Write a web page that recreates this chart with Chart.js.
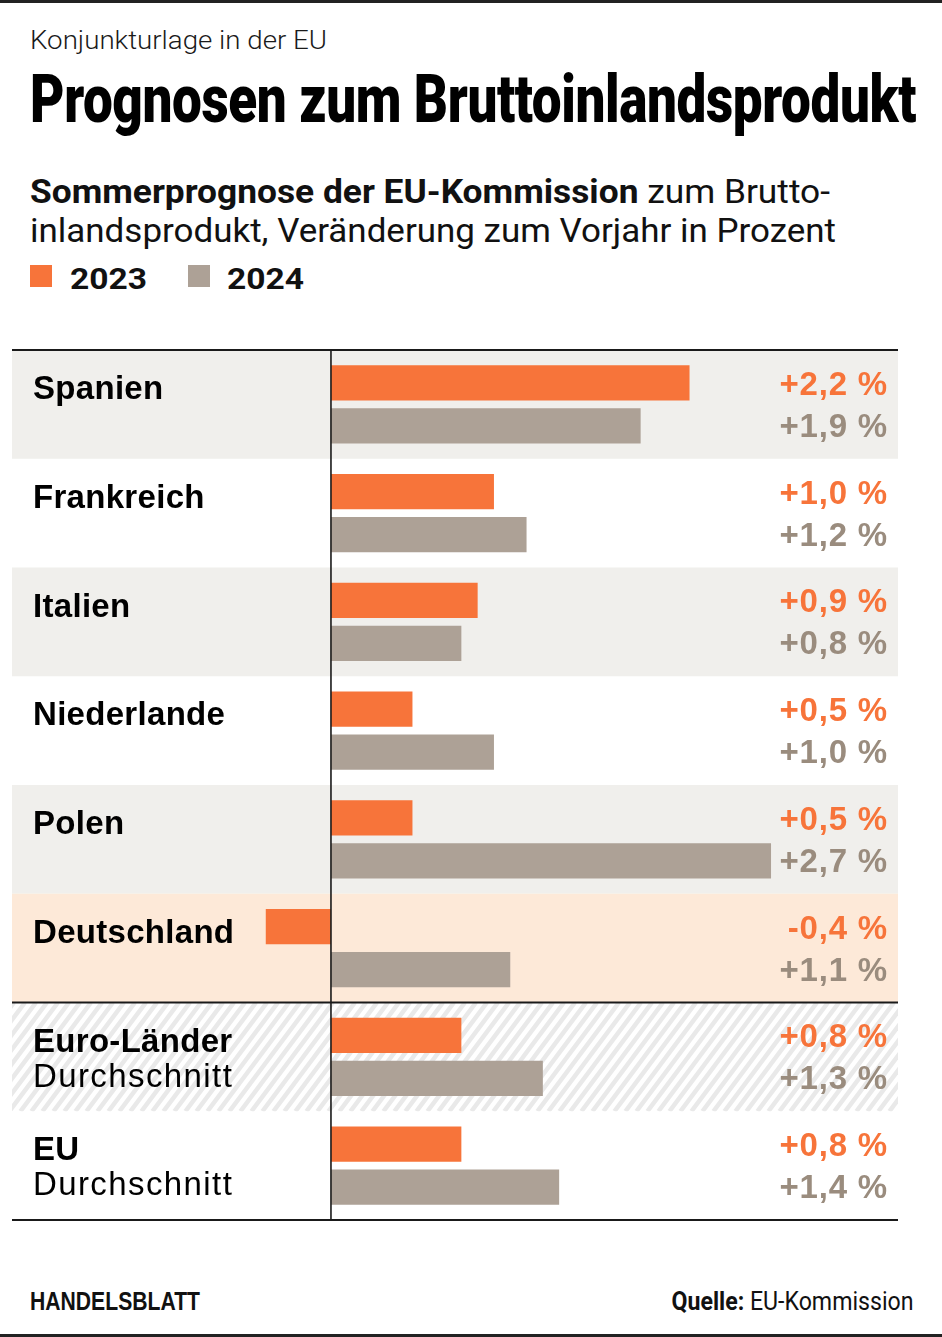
<!DOCTYPE html>
<html lang="de">
<head>
<meta charset="utf-8">
<script src="https://cdn.jsdelivr.net/npm/chart.js@4/dist/chart.umd.min.js"></script>
<style>
  html,body{margin:0;padding:0;background:#fff;}
  body{width:942px;height:1337px;position:relative;overflow:hidden;color:#111;}
  .t{position:absolute;white-space:nowrap;line-height:1;}
  .fitL{transform-origin:0 0;}
  .fitR{transform-origin:100% 0;}
  #topline{position:absolute;left:0;top:0;width:942px;height:2.5px;background:#222;}
  #botline{position:absolute;left:0;top:1334px;width:942px;height:3px;background:#222;}
  .sq{position:absolute;width:22px;height:22px;}
  #chartWrap{position:absolute;left:0;top:340px;width:942px;height:890px;}
</style>
</head>
<body>
<div id="topline"></div>
<div class="t fitL" data-w="297" style="left:30px;top:26px;font:300 25px Roboto,'Liberation Sans',sans-serif;color:#1a1a1a;">Konjunkturlage in der EU</div>
<div class="t fitL" data-w="886" style="left:30px;top:61px;font:900 66px Roboto,'Liberation Sans',sans-serif;color:#000;letter-spacing:-0.5px;">Prognosen zum Bruttoinlandsprodukt</div>
<div class="t fitL" data-w="800" style="left:30px;top:172px;font:400 33px Roboto,'Liberation Sans',sans-serif;color:#111;"><b>Sommerprognose der EU-Kommission</b> zum Brutto-</div>
<div class="t fitL" data-w="806" style="left:30px;top:211px;font:400 33px Roboto,'Liberation Sans',sans-serif;color:#111;">inlandsprodukt, Veränderung zum Vorjahr in Prozent</div>
<div class="sq" style="left:30px;top:265px;background:#f7743a;"></div>
<div class="t fitL" id="lg1" data-w="77" style="left:70px;top:261px;font:bold 30px Roboto,'Liberation Sans',sans-serif;color:#111;"></div>
<div class="sq" style="left:188px;top:265px;background:#ada196;"></div>
<div class="t fitL" id="lg2" data-w="77" style="left:227px;top:261px;font:bold 30px Roboto,'Liberation Sans',sans-serif;color:#111;"></div>

<div id="chartWrap"><canvas id="c" width="942" height="890"></canvas></div>

<div class="t fitL" data-w="170" style="left:30px;top:1287px;font:bold 25px 'Liberation Sans Narrow','Liberation Sans',sans-serif;color:#111;">HANDELSBLATT</div>
<div class="t fitR" data-w="242" style="right:28px;top:1287px;font:400 25px Roboto,'Liberation Sans',sans-serif;color:#111;"><b>Quelle:</b> EU-Kommission</div>
<div id="botline"></div>

<script>
// ---- Data ----
const categories = ["Spanien","Frankreich","Italien","Niederlande","Polen","Deutschland","Euro-Länder","EU"];
const subLabels  = ["","","","","","","Durchschnitt","Durchschnitt"];
const seriesNames = ["2023","2024"];
const values2023 = [2.2, 1.0, 0.9, 0.5, 0.5, -0.4, 0.8, 0.8];
const values2024 = [1.9, 1.2, 0.8, 1.0, 2.7, 1.1, 1.3, 1.4];
const highlightCategory = "Deutschland";

// ---- Styles ----
const ORANGE = "#f7743a";
const GRAY = "#ada196";
const GRAY_TEXT = "#9a8c7e";
const BAND_GRAY = "#f0efec";
const BAND_PEACH = "#fde9d8";
const HATCH = "#e9e9e9";
const LINE = "#1a1a1a";

document.getElementById('lg1').textContent = seriesNames[0];
document.getElementById('lg2').textContent = seriesNames[1];

function fmt(v){
  const s = Math.abs(v).toFixed(1).replace('.', ',');
  return (v < 0 ? '-' : '+') + s + ' %';
}

const tablePlugin = {
  id: 'table',
  beforeDatasetsDraw(chart){
    const {ctx, chartArea:a, scales:{y}} = chart;
    const h = (a.bottom - a.top) / categories.length;
    categories.forEach((c, i) => {
      const cy = y.getPixelForValue(i);
      const top = cy - h/2;
      ctx.save();
      if (c === highlightCategory) {
        ctx.fillStyle = BAND_PEACH;
        ctx.fillRect(a.left, top, a.right - a.left, h);
      } else if (subLabels[i] && i % 2 === 0) {
        ctx.beginPath();
        ctx.rect(a.left, top, a.right - a.left, h);
        ctx.clip();
        ctx.fillStyle = '#fff';
        ctx.fillRect(a.left, top, a.right - a.left, h);
        ctx.strokeStyle = HATCH;
        ctx.lineWidth = 4.5;
        const dx = h * 0.75;
        for (let x = a.left - dx - 20; x < a.right + 20; x += 11) {
          ctx.beginPath();
          ctx.moveTo(x, top + h);
          ctx.lineTo(x + dx, top);
          ctx.stroke();
        }
      } else if (i % 2 === 0) {
        ctx.fillStyle = BAND_GRAY;
        ctx.fillRect(a.left, top, a.right - a.left, h);
      }
      ctx.restore();
    });
  },
  afterDatasetsDraw(chart){
    const {ctx, chartArea:a, scales:{x, y}} = chart;
    const h = (a.bottom - a.top) / categories.length;
    const x0 = x.getPixelForValue(0);
    ctx.save();
    // zero line
    ctx.strokeStyle = LINE;
    ctx.lineWidth = 1.6;
    ctx.beginPath(); ctx.moveTo(x0, a.top); ctx.lineTo(x0, a.bottom); ctx.stroke();
    // horizontal rules
    ctx.lineWidth = 2;
    const rule = (yy) => { ctx.beginPath(); ctx.moveTo(a.left, yy); ctx.lineTo(a.right, yy); ctx.stroke(); };
    rule(a.top);
    rule(a.bottom);
    const firstAvg = subLabels.findIndex(s => s);
    if (firstAvg > 0) rule(y.getPixelForValue(firstAvg) - h/2);

    // category labels
    ctx.textBaseline = 'alphabetic';
    ctx.textAlign = 'left';
    ctx.fillStyle = '#000';
    categories.forEach((c, i) => {
      const top = y.getPixelForValue(i) - h/2;
      ctx.font = 'bold 33px "Liberation Sans", Arial, sans-serif';
      ctx.letterSpacing = '0.3px';
      ctx.fillText(c, a.left + 21, top + 49);
      if (subLabels[i]) {
        ctx.font = '400 33px "Liberation Sans", Arial, sans-serif';
        ctx.letterSpacing = '1.4px';
        ctx.fillText(subLabels[i], a.left + 21, top + 84);
      }
    });

    // value labels
    ctx.textAlign = 'right';
    ctx.font = 'bold 33px "Liberation Sans", Arial, sans-serif';
    ctx.letterSpacing = '0.8px';
    const m0 = chart.getDatasetMeta(0), m1 = chart.getDatasetMeta(1);
    categories.forEach((c, i) => {
      ctx.fillStyle = ORANGE;
      ctx.fillText(fmt(values2023[i]), a.right - 10, m0.data[i].y + 12);
      ctx.fillStyle = GRAY_TEXT;
      ctx.fillText(fmt(values2024[i]), a.right - 10, m1.data[i].y + 11);
    });
    ctx.restore();
  }
};

new Chart(document.getElementById('c'), {
  type: 'bar',
  data: {
    labels: categories,
    datasets: [
      { label: seriesNames[0], data: values2023, backgroundColor: ORANGE, borderWidth: 0,
        categoryPercentage: 0.79, barPercentage: 0.82 },
      { label: seriesNames[1], data: values2024, backgroundColor: GRAY, borderWidth: 0,
        categoryPercentage: 0.79, barPercentage: 0.82 }
    ]
  },
  options: {
    indexAxis: 'y',
    responsive: false,
    animation: false,
    layout: { padding: { left: 12, right: 44, top: 10, bottom: 10 } },
    plugins: { legend: { display: false }, tooltip: { enabled: false } },
    scales: {
      x: { display: false, min: -1.957, max: 3.479, grid: { display: false } },
      y: { display: false, offset: true, grid: { display: false } }
    }
  },
  plugins: [tablePlugin]
});

// fit header/footer text widths
document.querySelectorAll('[data-w]').forEach(el => {
  const w = parseFloat(el.dataset.w);
  const cur = el.getBoundingClientRect().width;
  if (cur > 0) el.style.transform = 'scaleX(' + (w / cur) + ')';
});
</script>
</body>
</html>
